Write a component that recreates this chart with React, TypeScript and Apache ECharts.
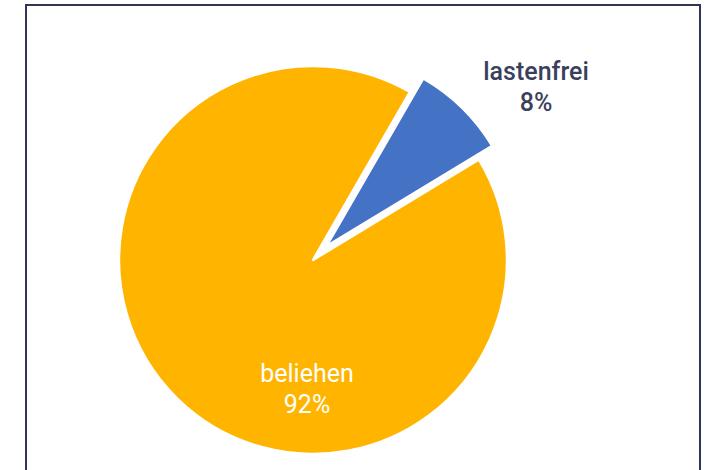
import React, { useEffect, useRef } from "react";
import * as echarts from "echarts";

const categories = ["lastenfrei", "beliehen"];
const values = [8, 92];
const colors = ["#4472C4", "#FFB400"];
const labelColors = ["#3B3F5E", "#FFFFFF"];

export default function App() {
  const ref = useRef<HTMLDivElement>(null);
  useEffect(() => {
    if (!ref.current) return;
    const chart = echarts.init(ref.current, undefined, { renderer: "svg" });
    const total = values.reduce((a, b) => a + b, 0);
    const pct = values.map((v) => Math.round((v / total) * 100));
    chart.setOption({
      animation: false,
      backgroundColor: "#ffffff",
      graphic: [
        {
          type: "rect",
          shape: { x: 26, y: 5, width: 674, height: 480 },
          style: { fill: "none", stroke: "#2F3458", lineWidth: 2 },
          silent: true,
        },
        {
          type: "text",
          x: 536,
          y: 87,
          silent: true,
          z: 10,
          style: {
            text: categories[0] + "\n" + pct[0] + "%",
            fill: labelColors[0],
            font: "500 25px Roboto",
            lineHeight: 31,
            align: "center",
            verticalAlign: "middle",
          },
        },
      ],
      series: [
        {
          type: "pie",
          center: [313, 260],
          radius: 194,
          startAngle: 60,
          clockwise: true,
          selectedMode: "single",
          selectedOffset: 19,
          itemStyle: { borderColor: "#ffffff", borderWidth: 2.5 },
          label: {
            show: true,
            position: "inside",
            formatter: "{b}\n{d}%",
            fontFamily: "Roboto",
            fontSize: 25,
            lineHeight: 31,
            align: "center",
            verticalAlign: "middle",
          },
          labelLine: { show: false },
          labelLayout: (params: any) => {
            if (params.dataIndex === 1) {
              return { x: 307, y: 389, align: "center", verticalAlign: "middle" };
            }
            return {};
          },
          emphasis: { disabled: true },
          data: categories.map((c, i) => ({
            name: c,
            value: values[i],
            selected: i === 0,
            itemStyle: { color: colors[i] },
            label: { show: i === 1, color: labelColors[i] },
          })),
        },
      ],
    });
    return () => chart.dispose();
  }, []);
  return (
    <div
      ref={ref}
      style={{ position: "fixed", left: 0, top: 0, width: 710, height: 470 }}
    />
  );
}
